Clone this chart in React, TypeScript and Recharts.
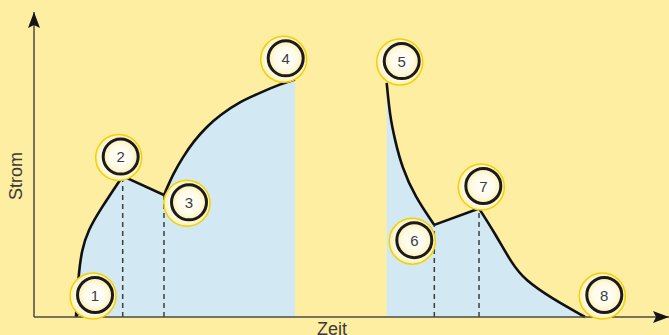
import { ComposedChart, Area, Line, XAxis, YAxis, ReferenceLine, ReferenceDot } from 'recharts';

// time / current values (0..100 on both axes)
const riseA = [
  { x: 6.61, y: 0 }, { x: 6.98, y: 13.2 }, { x: 7.51, y: 22.0 }, { x: 8.55, y: 28.5 },
  { x: 10.39, y: 35.1 }, { x: 13.97, y: 46.2 },
];
const dropA = [{ x: 13.97, y: 46.2 }, { x: 20.47, y: 40.0 }];
const riseB = [
  { x: 20.47, y: 40.0 }, { x: 21.94, y: 47.1 }, { x: 23.51, y: 52.6 }, { x: 25.09, y: 57.5 },
  { x: 27.2, y: 62.4 }, { x: 29.29, y: 66.2 }, { x: 32.44, y: 70.6 }, { x: 35.59, y: 73.5 },
  { x: 38.74, y: 76.3 }, { x: 41.1, y: 77.9 },
];
const fallA = [
  { x: 55.54, y: 76.8 }, { x: 56.06, y: 65.7 }, { x: 56.85, y: 58.0 }, { x: 57.91, y: 49.3 },
  { x: 60.0, y: 39.4 }, { x: 63.04, y: 30.2 },
];
const riseC = [{ x: 63.04, y: 30.2 }, { x: 70.08, y: 35.6 }];
const fallB = [
  { x: 70.08, y: 35.6 }, { x: 72.6, y: 27.4 }, { x: 75.23, y: 17.6 }, { x: 77.32, y: 12.1 },
  { x: 81.53, y: 6.1 }, { x: 86.77, y: 0 },
];

// dashed drop lines at the corner points
const dropX = [13.97, 20.47, 63.04, 70.08];
const dropY = [46.2, 40.0, 30.2, 35.6];

// numbered markers
const markerLabels = ['1', '2', '3', '4', '5', '6', '7', '8'];
const markerX = [9.61, 13.65, 24.41, 39.64, 57.91, 59.89, 70.76, 89.81];
const markerY = [7.2, 52.6, 37.6, 84.8, 83.9, 25.2, 42.95, 7.2];

const segments = [
  { data: riseA, type: 'basis' },
  { data: dropA, type: 'linear' },
  { data: riseB, type: 'basis' },
  { data: fallA, type: 'basis' },
  { data: riseC, type: 'linear' },
  { data: fallB, type: 'basis' },
];

const BG = '#FEEEA2';
const BLUE = '#D2E9F3';
const AXIS = '#4b4a40';
const FONT = '"Liberation Sans", Arial, sans-serif';

function Marker({ cx, cy, label }: { cx: number; cy: number; label: string }) {
  return (
    <g>
      <circle cx={cx - 2} cy={cy + 1} r={23} fill="url(#glowFill)" stroke="#F4D000" strokeWidth={1.5} />
      <circle cx={cx} cy={cy} r={17.5} fill="url(#ringFill)" stroke="#1b1b1b" strokeWidth={3} />
      <text x={cx} y={cy + 5.5} textAnchor="middle" fontSize={15} fontFamily={FONT} fill="#3c3c3c">{label}</text>
    </g>
  );
}

export default function App() {
  return (
    <div style={{ position: 'absolute', left: 0, top: 0, width: 669, height: 335, background: BG, overflow: 'hidden' }}>
      <ComposedChart width={669} height={335} margin={{ top: 12, right: 0, bottom: 0, left: 0 }}>
        <defs>
          <radialGradient id="ringFill" cx="50%" cy="50%" r="50%">
            <stop offset="0%" stopColor="#ffffff" />
            <stop offset="65%" stopColor="#fffbe6" />
            <stop offset="100%" stopColor="#fdeeb0" />
          </radialGradient>
          <radialGradient id="glowFill" cx="50%" cy="50%" r="50%">
            <stop offset="0%" stopColor="#ffffff" />
            <stop offset="75%" stopColor="#fffae0" />
            <stop offset="100%" stopColor="#fff1b8" />
          </radialGradient>
        </defs>
        <XAxis dataKey="x" type="number" domain={[0, 100]} height={18} tick={false} tickLine={false}
          axisLine={{ stroke: AXIS, strokeWidth: 1.5 }}
          label={{
            content: () => (
              <text x={332} y={335} textAnchor="middle" fontSize={18} fontFamily={FONT} fill="#3a3a3a">Zeit</text>
            ),
          }} />
        <YAxis dataKey="y" type="number" domain={[0, 100]} width={34} tick={false} tickLine={false}
          axisLine={{ stroke: AXIS, strokeWidth: 1.5 }}
          label={{
            content: () => (
              <text x={22} y={176} transform="rotate(-90 22 176)" textAnchor="middle" fontSize={18}
                fontFamily={FONT} fill="#3a3a3a">Strom</text>
            ),
          }} />
        {segments.map((s, i) => (
          <Area key={'a' + i} data={s.data} dataKey="y" type={s.type as any} fill={BLUE} fillOpacity={1}
            stroke={BLUE} strokeWidth={0.8} baseValue={0} isAnimationActive={false} dot={false} activeDot={false} />
        ))}
        {dropX.map((x, i) => (
          <ReferenceLine key={'d' + i} segment={[{ x, y: 0 }, { x, y: dropY[i] }]} stroke="#3d3d3d"
            strokeWidth={1.5} strokeDasharray="5 4" />
        ))}
        <ReferenceLine segment={[{ x: 6.61, y: 0 }, { x: 7.7, y: 2.5 }]} stroke="#1b1b1b" strokeWidth={1.5} />
        {segments.map((s, i) => (
          <Line key={'l' + i} data={s.data} dataKey="y" type={s.type as any} stroke="#111" strokeWidth={2.6}
            dot={false} activeDot={false} isAnimationActive={false} />
        ))}
        <ReferenceDot x={0} y={100} r={1} shape={(p: any) => (
          <polygon points={`${p.cx},${p.cy} ${p.cx - 6},${p.cy + 16} ${p.cx},${p.cy + 13} ${p.cx + 6},${p.cy + 16}`} fill="#151515" />
        )} />
        <ReferenceDot x={100} y={0} r={1} shape={(p: any) => (
          <polygon points={`${p.cx},${p.cy} ${p.cx - 16},${p.cy - 6} ${p.cx - 13},${p.cy} ${p.cx - 16},${p.cy + 6}`} fill="#151515" />
        )} />
        {markerLabels.map((t, i) => (
          <ReferenceDot key={'m' + i} x={markerX[i]} y={markerY[i]} r={1}
            shape={(p: any) => <Marker cx={p.cx} cy={p.cy} label={t} />} />
        ))}
      </ComposedChart>
    </div>
  );
}
